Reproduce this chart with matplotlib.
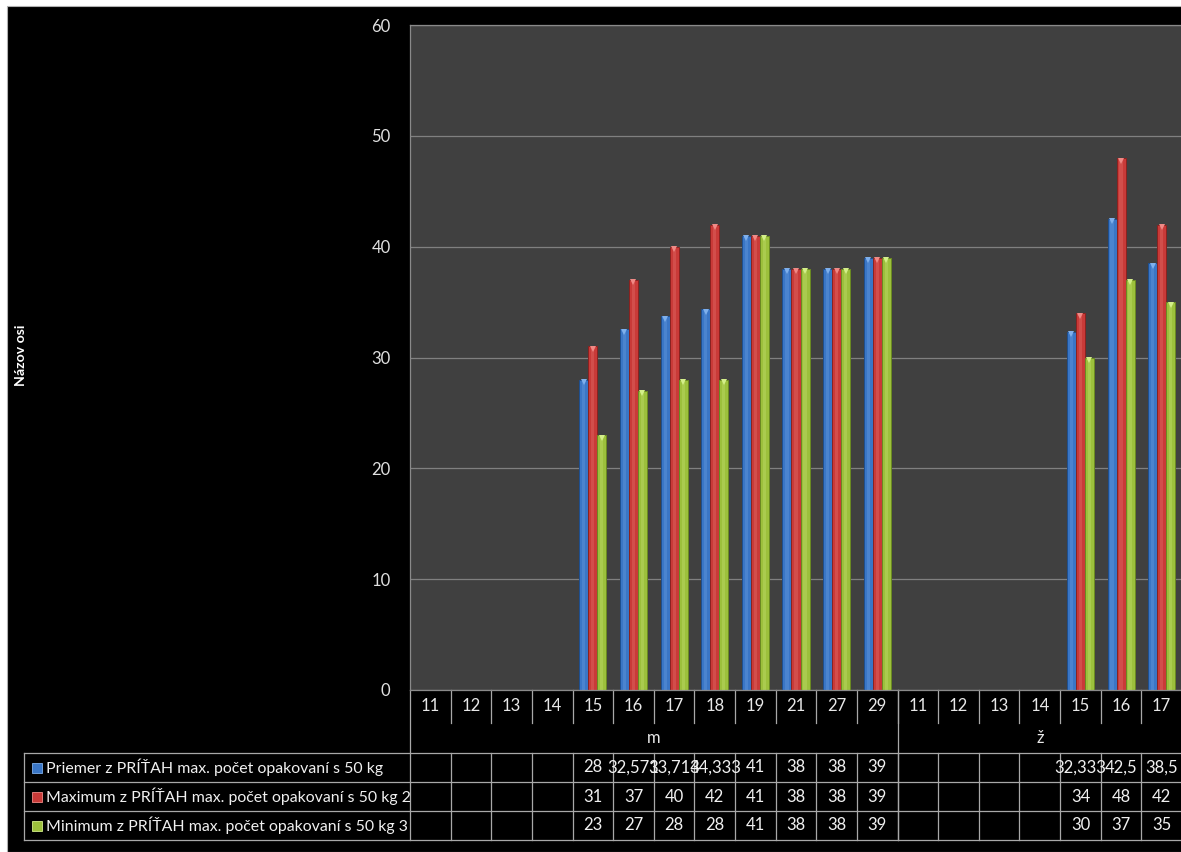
import numpy as np
import matplotlib
matplotlib.use("Agg")
import matplotlib.pyplot as plt
from matplotlib.patches import Rectangle
from matplotlib.transforms import blended_transform_factory, offset_copy

# categories (age) split into two groups: m and ž
categories = ["11", "12", "13", "14", "15", "16", "17", "18", "19", "21", "27", "29",
              "11", "12", "13", "14", "15", "16", "17"]
group_names = ["m", "ž"]
group_sizes = [12, 7]

series_names = ["Priemer z PRÍŤAH max. počet opakovaní s 50 kg",
                "Maximum z PRÍŤAH max. počet opakovaní s 50 kg 2",
                "Minimum z PRÍŤAH max. počet opakovaní s 50 kg 3"]
priemer = [None, None, None, None, 28, 32.571, 33.714, 34.333, 41, 38, 38, 39,
           None, None, None, None, 32.333, 42.5, 38.5]
maximum = [None, None, None, None, 31, 37, 40, 42, 41, 38, 38, 39,
           None, None, None, None, 34, 48, 42]
minimum = [None, None, None, None, 23, 27, 28, 28, 41, 38, 38, 39,
           None, None, None, None, 30, 37, 35]

colors = ["#3a76c6", "#c93a38", "#9cc03c"]
edges = ["#1f4f8f", "#8a2220", "#6a8a22"]
lights = ["#7fb0ec", "#f08a86", "#d4ef8a"]

plt.rcParams["font.family"] = ["Lato", "DejaVu Sans"]

W, H = 1181, 852
fig = plt.figure(figsize=(W / 100, H / 100), dpi=100, facecolor="white")

# black chart area (white margin on top and left)
fig.patches.append(Rectangle((7 / W, 0), 1, (H - 6) / H, transform=fig.transFigure,
                             facecolor="black", edgecolor="#b0b0b0", linewidth=0.8, zorder=-10))

ax = fig.add_axes([410 / W, (H - 690) / H, 772 / W, 665 / H])
ax.set_facecolor("#404040")
n = len(categories)
ax.set_xlim(-0.5, n - 0.5)
ax.set_ylim(0, 60)
ax.set_yticks(range(0, 61, 10))
ax.set_xticks([])
ax.tick_params(axis="y", length=0, pad=14, labelsize=12, labelcolor="#e0e0e0")
ax.grid(axis="y", color="#808080", linewidth=0.9)
ax.set_axisbelow(True)
for side in ["left", "top", "bottom"]:
    ax.spines[side].set_color("#8a8a8a")
    ax.spines[side].set_linewidth(0.9)
ax.spines["right"].set_visible(False)

fig.text(21 / W, (H - 355) / H, "Názov osi", rotation=90, color="white",
         fontsize=10.2, fontweight="bold", ha="center", va="center")

x = np.arange(n)
bw = 0.222
cap = offset_copy(ax.transData, fig=fig, y=-2.5, units="dots")
all_series = [priemer, maximum, minimum]
for k, vals in enumerate(all_series):
    v = np.array([np.nan if a is None else a for a in vals], dtype=float)
    ok = ~np.isnan(v)
    xs = x[ok] + (k - 1) * bw
    ax.bar(xs, v[ok], width=bw, color=colors[k], edgecolor=edges[k], linewidth=0.7, zorder=2)
    ax.bar(xs, v[ok], width=bw * 0.35, color=lights[k], alpha=0.25, linewidth=0, zorder=3)
    ax.plot(xs, v[ok], linestyle="none", marker="v", markersize=4, color=lights[k],
            markeredgewidth=0, transform=cap, zorder=4)

# data table under the axis
line_c = "#a8a8a8"
lw = 0.9
ty = lambda y: (690 - y) / 665  # pixel row -> axes fraction
tr = blended_transform_factory(ax.transData, ax.transAxes)
trf = blended_transform_factory(fig.transFigure, ax.transAxes)

for i, c in enumerate(categories):
    ax.text(i, ty(706), c, transform=tr, ha="center", va="center", color="#e8e8e8",
            fontsize=12, clip_on=False)
for i in range(1, n):
    ax.plot([i - 0.5, i - 0.5], [ty(690), ty(723)], transform=tr, color=line_c, lw=lw, clip_on=False)

start = 0
for name, size in zip(group_names, group_sizes):
    ax.text(start + (size - 1) / 2, ty(738), name, transform=tr, ha="center", va="center",
            color="#e8e8e8", fontsize=12, clip_on=False)
    ax.plot([start - 0.5, start - 0.5], [ty(690), ty(840)], transform=tr, color=line_c, lw=lw,
            clip_on=False)
    start += size

row_y = [753, 782, 811, 840]
for y in row_y:
    ax.plot([24 / W, 1], [ty(y), ty(y)], transform=trf, color=line_c, lw=lw, clip_on=False)
ax.plot([24 / W, 24 / W], [ty(753), ty(840)], transform=trf, color=line_c, lw=lw, clip_on=False)
for i in range(1, n):
    ax.plot([i - 0.5, i - 0.5], [ty(753), ty(840)], transform=tr, color=line_c, lw=lw, clip_on=False)


def fmt(v):
    s = ("%.3f" % v).rstrip("0").rstrip(".")
    return s.replace(".", ",")


for k, vals in enumerate(all_series):
    yc = ty((row_y[k] + row_y[k + 1]) / 2)
    ax.plot([37 / W], [yc], transform=trf, marker="s", markersize=6.5, color=colors[k],
            markeredgecolor=lights[k], markeredgewidth=0.6, clip_on=False)
    ax.text(46 / W, yc, series_names[k], transform=trf, ha="left", va="center",
            color="#f0f0f0", fontsize=11.4, clip_on=False)
    for i, v in enumerate(vals):
        if v is None:
            continue
        ax.text(i, yc, fmt(v), transform=tr, ha="center", va="center", color="#f0f0f0",
                fontsize=12, clip_on=False)

fig.savefig("out.png", dpi=100, facecolor=fig.get_facecolor())
